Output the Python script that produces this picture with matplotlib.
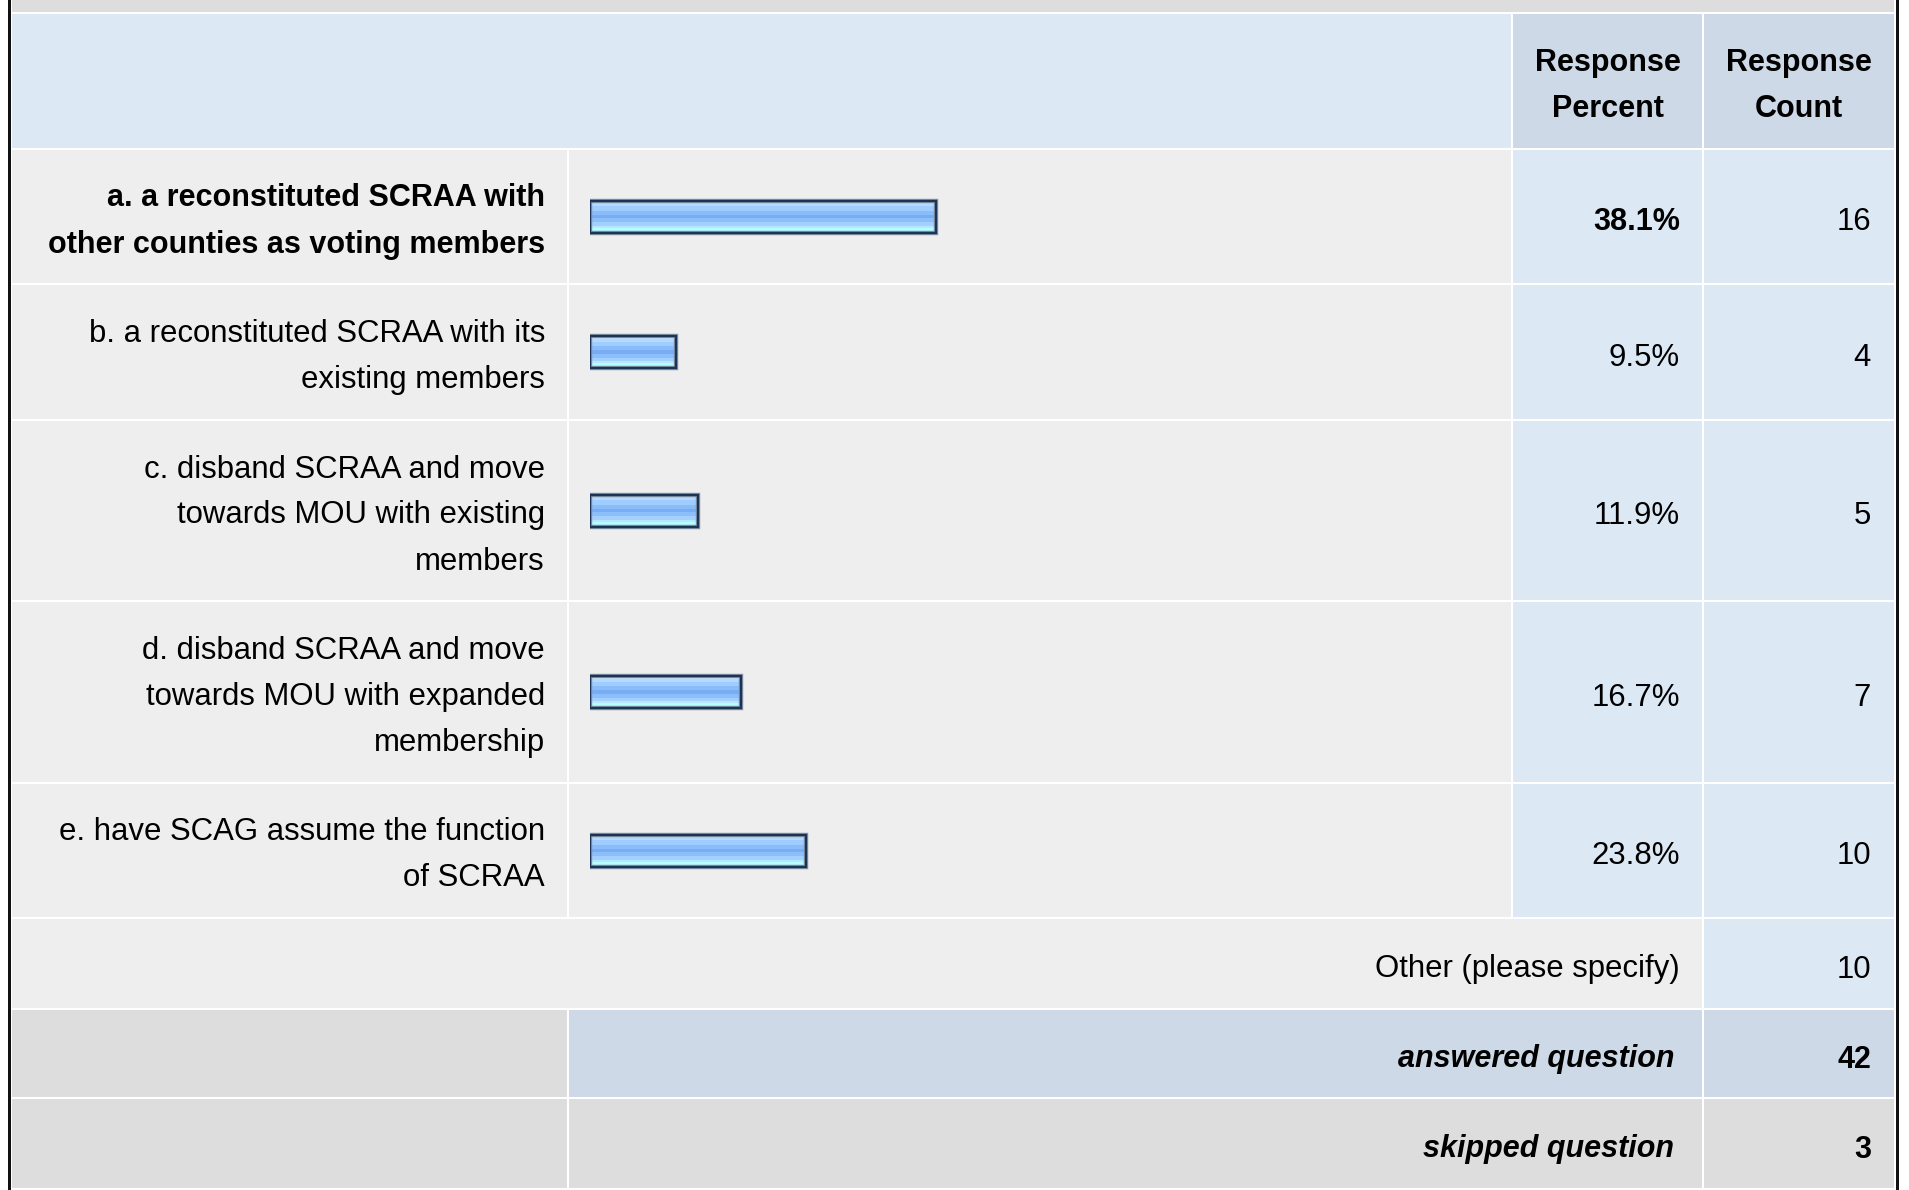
import matplotlib
matplotlib.use("Agg")
import matplotlib.pyplot as plt
from matplotlib.patches import Rectangle

# ---------------- data ----------------
labels = [
    ["a. a reconstituted SCRAA with", "other counties as voting members"],
    ["b. a reconstituted SCRAA with its", "existing members"],
    ["c. disband SCRAA and move", "towards MOU with existing", "members"],
    ["d. disband SCRAA and move", "towards MOU with expanded", "membership"],
    ["e. have SCAG assume the function", "of SCRAA"],
]
percents = [38.1, 9.5, 11.9, 16.7, 23.8]
counts = [16, 4, 5, 7, 10]
header_cols = [["Response", "Percent"], ["Response", "Count"]]
other_label = "Other (please specify)"
other_count = 10
answered_label = "answered question"
answered_count = 42
skipped_label = "skipped question"
skipped_count = 3
top_index = percents.index(max(percents))

# ---------------- layout ----------------
W, H = 1909, 1190
FONT = "Liberation Sans"
FS_BOLD = 22
FS_REG = 22.45
LINE = 46
DY = 4  # vertical nudge of text

LIGHT_BLUE = "#dde8f5"
DARK_BLUE = "#cdd9e6"
LIGHT_GRAY = "#eeeeee"
DARK_GRAY = "#dddddd"

# column edges
c_lab = (12, 567)
c_bar = (569, 1511)
c_pct = (1513, 1702)
c_cnt = (1704, 1894)

# row edges
r_top = (0, 12)
r_head = (14, 148)
r_data = [(150, 283), (285, 419), (421, 600), (602, 782), (784, 917)]
r_other = (919, 1008)
r_ans = (1010, 1097)
r_skip = (1099, 1188)

fig = plt.figure(figsize=(W / 100, H / 100), dpi=100)
fig.patch.set_facecolor("white")
ax = fig.add_axes([0, 0, 1, 1])
ax.set_xlim(0, W)
ax.set_ylim(H, 0)
ax.axis("off")


def cell(x, y, color):
    ax.add_patch(Rectangle((x[0], y[0]), x[1] - x[0], y[1] - y[0],
                           facecolor=color, edgecolor="none", zorder=1))


def txt(x, y, s, ha="right", weight="normal", style="normal"):
    fs = FS_BOLD if weight == "bold" else FS_REG
    ax.text(x, y, s, ha=ha, va="center", fontsize=fs, family=FONT,
            fontweight=weight, fontstyle=style, color="#000000", zorder=5)


def lines_text(x, yc, lines, ha="right", weight="normal"):
    n = len(lines)
    for i, s in enumerate(lines):
        y = yc + (i - (n - 1) / 2) * LINE
        txt(x, y, s, ha=ha, weight=weight)


# top band (continuation of row above)
cell((12, 1894), r_top, DARK_GRAY)

# header
cell((c_lab[0], c_bar[1]), r_head, LIGHT_BLUE)
cell(c_pct, r_head, DARK_BLUE)
cell(c_cnt, r_head, DARK_BLUE)
hc = (r_head[0] + r_head[1]) / 2
for col, lines in zip([c_pct, c_cnt], header_cols):
    lines_text((col[0] + col[1]) / 2, hc + 1 + DY, lines, ha="center", weight="bold")

# data rows
row_centers = []
for i, (r, lab, p, n) in enumerate(zip(r_data, labels, percents, counts)):
    cell(c_lab, r, LIGHT_GRAY)
    cell(c_bar, r, LIGHT_GRAY)
    cell(c_pct, r, LIGHT_BLUE)
    cell(c_cnt, r, LIGHT_BLUE)
    yc = (r[0] + r[1]) / 2
    row_centers.append(yc)
    w = "bold" if i == top_index else "normal"
    lines_text(545, yc + DY + 1, lab, weight=w)
    txt(1680, yc + 2 + DY, f"{p:.1f}%", weight=w)
    txt(1871, yc + 2 + DY, str(n))

# other row
cell((c_lab[0], c_pct[1]), r_other, LIGHT_GRAY)
cell(c_cnt, r_other, LIGHT_BLUE)
yc = (r_other[0] + r_other[1]) / 2
txt(1680, yc + 2 + DY, other_label)
txt(1871, yc + 2 + DY, str(other_count))

# answered row
cell(c_lab, r_ans, DARK_GRAY)
cell((c_bar[0], c_pct[1]), r_ans, DARK_BLUE)
cell(c_cnt, r_ans, DARK_BLUE)
yc = (r_ans[0] + r_ans[1]) / 2
txt(1674, yc + 2 + DY, answered_label, weight="bold", style="italic")
txt(1871, yc + 2 + DY, str(answered_count), weight="bold")

# skipped row
cell(c_lab, r_skip, DARK_GRAY)
cell((c_bar[0], c_pct[1]), r_skip, DARK_GRAY)
cell(c_cnt, r_skip, DARK_GRAY)
yc = (r_skip[0] + r_skip[1]) / 2
txt(1674, yc + 2 + DY, skipped_label, weight="bold", style="italic")
txt(1871, yc + 2 + DY, str(skipped_count), weight="bold")

# black side borders
ax.add_patch(Rectangle((8, 0), 3, H, facecolor="#111111", edgecolor="none", zorder=6))
ax.add_patch(Rectangle((1896, 0), 3, H, facecolor="#111111", edgecolor="none", zorder=6))

# ---------------- bars (data axes) ----------------
bar_left_px = 589.5
bar_full_px = 910  # width of 100 %
bax = fig.add_axes([bar_left_px / W, 0, bar_full_px / W, 1])
bax.set_xlim(0, 100)
bax.set_ylim(H, 0)
bax.axis("off")
bax.patch.set_alpha(0)

BAR_H = 32
stripes = [
    ("#d2ebff", 3), ("#b4dbff", 3), ("#9fcdff", 5), ("#8abcf9", 4),
    ("#78acf4", 4), ("#8cbefa", 4), ("#a2d0ff", 4), ("#b8e6ff", 2),
    ("#b3ffff", 5),
]
tot = sum(h for _, h in stripes)
offs = 0
for color, h in stripes:
    hh = BAR_H * h / tot
    ys = [c - BAR_H / 2 + offs + hh / 2 for c in row_centers]
    bax.barh(ys, percents, height=hh, left=0, color=color, edgecolor="none",
             zorder=2)
    offs += hh

bax.barh(row_centers, percents, height=BAR_H, left=0, fill=False,
         edgecolor="#8a97aa", linewidth=3.2, zorder=3)
bax.barh(row_centers, percents, height=BAR_H, left=0, fill=False,
         edgecolor="#1b3456", linewidth=1.7, zorder=4)

fig.savefig("out.png", dpi=100, facecolor="white")
